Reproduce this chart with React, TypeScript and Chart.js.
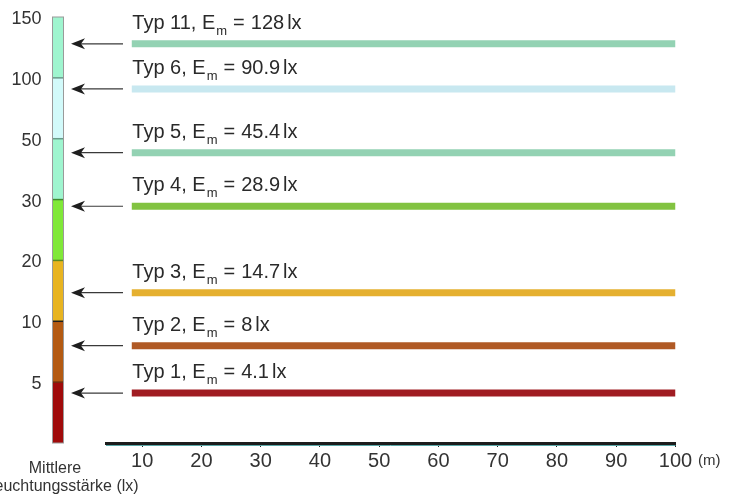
import React, { useEffect, useRef } from 'react';
import { Chart, registerables } from 'chart.js';

Chart.register(...registerables);

// ---- data ----
const typeNames = ['Typ 1', 'Typ 2', 'Typ 3', 'Typ 4', 'Typ 5', 'Typ 6', 'Typ 11'];
const emValues = [4.1, 8, 14.7, 28.9, 45.4, 90.9, 128];
const emLabels = ['4.1', '8', '14.7', '28.9', '45.4', '90.9', '128'];
const lineFromM = 8.25;
const lineToM = 100;
const xMinM = 3.9;
const xMaxM = 100;
const xTickValues = [10, 20, 30, 40, 50, 60, 70, 80, 90, 100];
const yTickValues = [5, 10, 20, 30, 50, 100, 150];
const bandEdges = [0, 5, 10, 20, 30, 50, 100, 150];

// ---- styles ----
const lineColors = ['#a01c22', '#b05a25', '#e5b030', '#82c341', '#93d2b3', '#c8e8f0', '#93d2b3'];
const bandColors = ['#a00a0a', '#b45a12', '#e8b420', '#80e838', '#9ff5cf', '#d2fafa', '#9ff5cf'];
const sepColors = ['#6e2a0e', '#1e1e1e', '#5a8a20', '#3f8a30', '#6a9a8a', '#6a9a8a'];

function luxToBand(v: number): number {
  for (let i = 1; i < bandEdges.length; i++) {
    if (v <= bandEdges[i]) {
      const lo = bandEdges[i - 1];
      const hi = bandEdges[i];
      return i - 1 + (v - lo) / (hi - lo);
    }
  }
  return bandEdges.length - 1;
}

const FONT = '"Liberation Sans", Arial, Helvetica, sans-serif';

export default function App() {
  const ref = useRef<HTMLCanvasElement>(null);

  useEffect(() => {
    document.body.style.margin = '0';
    const canvas = ref.current;
    if (!canvas) return;

    const decor = {
      id: 'decor',
      afterDraw(chart: any) {
        const c: CanvasRenderingContext2D = chart.ctx;
        const ys = chart.scales.y;
        const xs = chart.scales.x;
        c.save();

        // colour bar
        const bx = 52.5;
        const bw = 11;
        const topPx = ys.getPixelForValue(bandColors.length);
        const botPx = ys.getPixelForValue(0);
        for (let i = 0; i < bandColors.length; i++) {
          const t = ys.getPixelForValue(i + 1);
          const b = ys.getPixelForValue(i);
          c.fillStyle = bandColors[i];
          c.fillRect(bx, t, bw, b - t);
        }
        for (let i = 1; i < bandColors.length; i++) {
          const py = ys.getPixelForValue(i);
          c.strokeStyle = sepColors[i - 1];
          c.lineWidth = 1.5;
          c.beginPath();
          c.moveTo(bx, py);
          c.lineTo(bx + bw, py);
          c.stroke();
        }
        c.strokeStyle = '#9a9a9a';
        c.lineWidth = 1;
        c.strokeRect(bx, topPx, bw, botPx - topPx);

        // arrows and labels
        const lx = xs.getPixelForValue(lineFromM) + 0.5;
        for (let i = 0; i < emValues.length; i++) {
          const ay = ys.getPixelForValue(luxToBand(emValues[i]));
          c.strokeStyle = '#3a3a3a';
          c.lineWidth = 1.2;
          c.beginPath();
          c.moveTo(123, ay);
          c.lineTo(80, ay);
          c.stroke();
          c.fillStyle = '#1e1e1e';
          c.beginPath();
          c.moveTo(71, ay);
          c.lineTo(85, ay - 5.5);
          c.lineTo(81, ay);
          c.lineTo(85, ay + 5.5);
          c.closePath();
          c.fill();

          const by = ay - 15;
          c.fillStyle = '#2a2a2a';
          c.textAlign = 'left';
          c.textBaseline = 'alphabetic';
          c.font = `20px ${FONT}`;
          const p1 = `${typeNames[i]}, E`;
          c.fillText(p1, lx, by);
          let cx = lx + c.measureText(p1).width + 1;
          c.font = `13px ${FONT}`;
          c.fillText('m', cx, by + 6);
          cx += c.measureText('m').width + 6;
          c.font = `20px ${FONT}`;
          c.fillText('=', cx, by);
          cx += c.measureText('=').width + 6;
          const num = emLabels[i];
          c.fillText(num, cx, by);
          cx += c.measureText(num).width + 3;
          c.fillText('lx', cx, by);
        }

        // teal line under axis
        c.strokeStyle = '#5aa8a8';
        c.lineWidth = 1;
        c.beginPath();
        c.moveTo(xs.left, xs.top + 2.5);
        c.lineTo(xs.right, xs.top + 2.5);
        c.stroke();

        // unit
        c.textAlign = 'left';
        c.fillStyle = '#333';
        c.font = `15px ${FONT}`;
        c.fillText('(m)', 698, 465);

        // axis title
        c.textAlign = 'center';
        c.font = `16px ${FONT}`;
        c.fillText('Mittlere', 55, 473);
        c.fillText('Beleuchtungsstärke (lx)', 55, 491);
        c.restore();
      },
    };

    const chart = new Chart(canvas, {
      type: 'line',
      data: {
        datasets: typeNames.map((n, i) => ({
          label: n,
          data: [
            { x: lineFromM, y: luxToBand(emValues[i]) },
            { x: lineToM, y: luxToBand(emValues[i]) },
          ],
          borderColor: lineColors[i],
          backgroundColor: lineColors[i],
          borderWidth: 7,
          borderCapStyle: 'butt',
          pointRadius: 0,
          fill: false,
          tension: 0,
        })),
      },
      options: {
        animation: false,
        responsive: false,
        events: [],
        layout: { padding: { top: 17, right: 57.5, left: 0, bottom: 0 } },
        plugins: { legend: { display: false }, tooltip: { enabled: false } },
        scales: {
          x: {
            type: 'linear',
            min: xMinM,
            max: xMaxM,
            afterBuildTicks: (s: any) => {
              s.ticks = xTickValues.map((v) => ({ value: v }));
            },
            afterFit: (s: any) => {
              s.height = 52;
              s.paddingLeft = 0;
              s.paddingRight = 0;
            },
            grid: { display: true, drawOnChartArea: false, drawTicks: true, tickLength: 4, color: '#222', lineWidth: 1 },
            border: { display: true, color: '#1c1c1c', width: 3 },
            ticks: {
              font: { size: 20, family: FONT },
              color: '#333',
              padding: 2,
              autoSkip: false,
              maxRotation: 0,
              callback: (v: any) => String(v),
            },
          },
          y: {
            type: 'linear',
            min: 0,
            max: 7,
            afterBuildTicks: (s: any) => {
              s.ticks = yTickValues.map((v) => ({ value: luxToBand(v) }));
            },
            afterFit: (s: any) => {
              s.width = 106;
              s.paddingTop = 0;
              s.paddingBottom = 0;
            },
            grid: { display: false, drawTicks: false },
            border: { display: false },
            ticks: {
              font: { size: 18, family: FONT },
              color: '#333',
              padding: 64.5,
              labelOffset: 2,
              autoSkip: false,
              callback: (_v: any, idx: number) => String(yTickValues[idx]),
            },
          },
        },
      },
      plugins: [decor],
    } as any);

    return () => chart.destroy();
  }, []);

  return (
    <div style={{ position: 'absolute', left: 0, top: 0, width: 733, height: 495 }}>
      <canvas ref={ref} width={733} height={495} style={{ display: 'block' }} />
    </div>
  );
}
